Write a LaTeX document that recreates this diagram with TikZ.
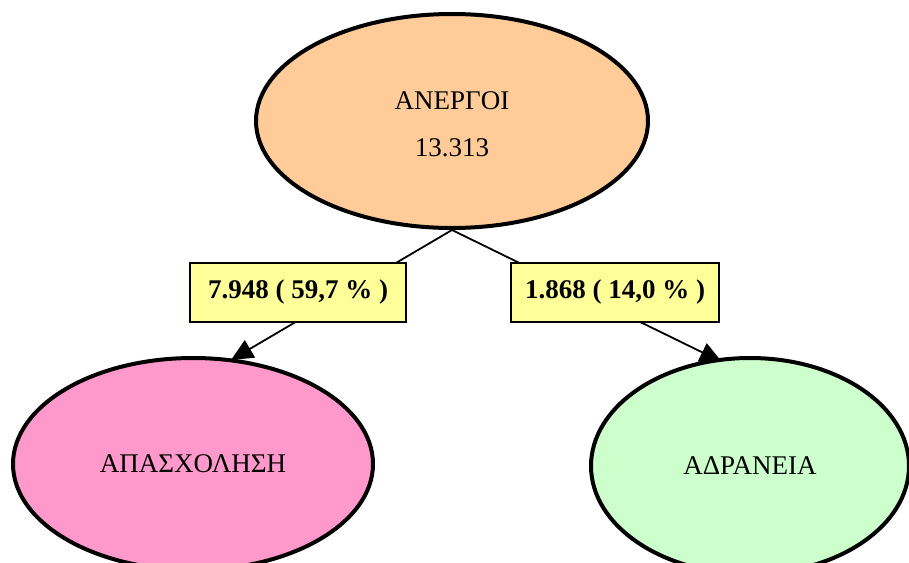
\documentclass[tikz,border=0pt]{standalone}
\usepackage{fontspec}
\setmainfont{Liberation Serif}
\usetikzlibrary{shapes.geometric,arrows.meta,backgrounds}
\definecolor{peach}{HTML}{FFCC99}
\definecolor{rosepink}{HTML}{FF99CC}
\definecolor{palegreen}{HTML}{CCFFCC}
\definecolor{paleyellow}{HTML}{FFFF99}
\tikzset{
  blob/.style={ellipse,draw,line width=4pt,inner sep=0pt,align=center,
    font=\fontsize{27}{47}\selectfont},
  share/.style={draw,line width=1.7pt,fill=paleyellow,minimum height=59pt,
    inner sep=0pt,font=\fontsize{27}{30}\selectfont\bfseries},
  flow/.style={line width=1.8pt,-{Triangle[length=22pt,width=20pt]}}
}
\begin{document}
\begin{tikzpicture}[x=1pt,y=-1pt]
  \useasboundingbox (0,0) rectangle (909,562);
  % ellipses
  \node[blob,fill=peach,minimum width=392pt,minimum height=214pt] (anergoi) at (452,121) {};
  \node at (452,124) [font=\fontsize{27}{47}\selectfont,align=center] (anergoitxt) {ΑΝΕΡΓΟΙ\\13.313};
  \node[blob,fill=rosepink,minimum width=360pt,minimum height=212pt] (apasx) at (193,464) {ΑΠΑΣΧΟΛΗΣΗ};
  \node[blob,fill=palegreen,minimum width=318pt,minimum height=216pt] (adran) at (750,466) {ΑΔΡΑΝΕΙΑ};
  % labels
  \node[share,minimum width=216pt] (shareA) at (298,292.5) {7.948 ( 59,7 \% )};
  \node[share,minimum width=208pt] (shareB) at (615,292.5) {1.868 ( 14,0 \% )};
  \coordinate (tipA) at (231,360);
  \coordinate (tipB) at (722,362);
  \begin{pgfonlayer}{background}
    \draw[flow] (anergoi.south) -- (tipA);
    \draw[flow] (anergoi.south) -- (tipB);
  \end{pgfonlayer}
\end{tikzpicture}
\end{document}
